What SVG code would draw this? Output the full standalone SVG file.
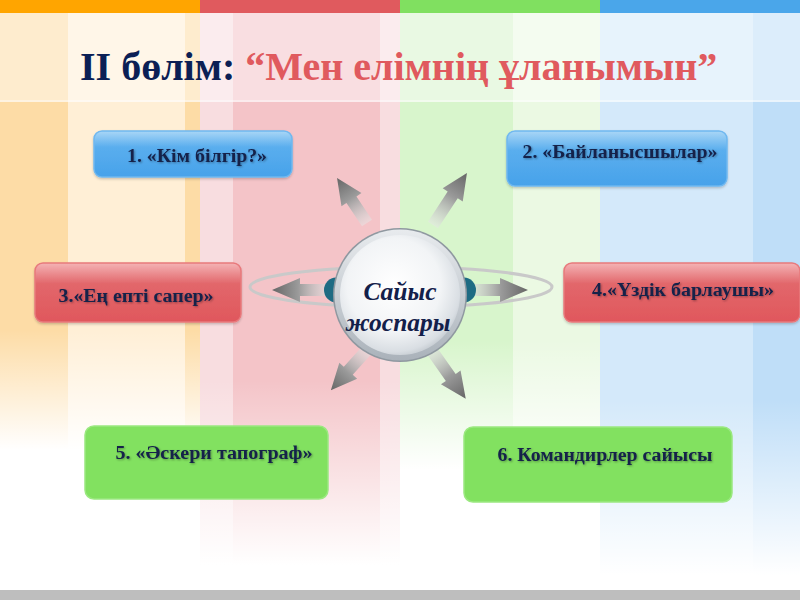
<svg xmlns="http://www.w3.org/2000/svg" width="800" height="600" viewBox="0 0 800 600">
  <defs>
    <linearGradient id="fadeA" gradientUnits="userSpaceOnUse" x1="0" y1="330" x2="0" y2="450">
      <stop offset="0" stop-color="#ffffff" stop-opacity="0"/>
      <stop offset="1" stop-color="#ffffff" stop-opacity="1"/>
    </linearGradient>
    <linearGradient id="fadeB" gradientUnits="userSpaceOnUse" x1="0" y1="380" x2="0" y2="565">
      <stop offset="0" stop-color="#ffffff" stop-opacity="0"/>
      <stop offset="1" stop-color="#ffffff" stop-opacity="1"/>
    </linearGradient>
    <linearGradient id="fadeC" gradientUnits="userSpaceOnUse" x1="0" y1="340" x2="0" y2="470">
      <stop offset="0" stop-color="#ffffff" stop-opacity="0"/>
      <stop offset="1" stop-color="#ffffff" stop-opacity="1"/>
    </linearGradient>
    <linearGradient id="fadeD" gradientUnits="userSpaceOnUse" x1="0" y1="400" x2="0" y2="575">
      <stop offset="0" stop-color="#ffffff" stop-opacity="0"/>
      <stop offset="1" stop-color="#ffffff" stop-opacity="1"/>
    </linearGradient>
    <linearGradient id="arrowGrad" x1="0" y1="0" x2="1" y2="0">
      <stop offset="0" stop-color="#e6e6e6" stop-opacity="0.5"/>
      <stop offset="0.55" stop-color="#9a9a9a"/>
      <stop offset="1" stop-color="#666666"/>
    </linearGradient>
    <linearGradient id="blueBox" x1="0" y1="0" x2="0" y2="1">
      <stop offset="0" stop-color="#a9d6f6"/>
      <stop offset="0.35" stop-color="#5aaeee"/>
      <stop offset="1" stop-color="#47a2ea"/>
    </linearGradient>
    <linearGradient id="redBox" x1="0" y1="0" x2="0" y2="1">
      <stop offset="0" stop-color="#f4b3b5"/>
      <stop offset="0.35" stop-color="#e2676b"/>
      <stop offset="1" stop-color="#e0575c"/>
    </linearGradient>
    <radialGradient id="ballGrad" cx="0.45" cy="0.42" r="0.6">
      <stop offset="0" stop-color="#ffffff"/>
      <stop offset="0.65" stop-color="#f2f4f6"/>
      <stop offset="0.92" stop-color="#d9dee3"/>
      <stop offset="1" stop-color="#c6ccd2"/>
    </radialGradient>
    <linearGradient id="rimGrad" x1="0" y1="0" x2="0" y2="1">
      <stop offset="0" stop-color="#e8ebee"/>
      <stop offset="1" stop-color="#aab2ba"/>
    </linearGradient>
    <filter id="txtShadow" x="-10%" y="-30%" width="120%" height="160%">
      <feDropShadow dx="1" dy="1" stdDeviation="0.8" flood-color="#000000" flood-opacity="0.35"/>
    </filter>
    <filter id="boxShadow" x="-10%" y="-20%" width="120%" height="150%">
      <feDropShadow dx="0" dy="1.5" stdDeviation="1.2" flood-color="#000000" flood-opacity="0.2"/>
    </filter>
  </defs>
  <style>
    .boxText { font-family: "Liberation Serif", "DejaVu Serif", serif; font-weight: bold; font-size: 18px; fill: #13204a; text-anchor: middle; }
    .arrow { fill: url(#arrowGrad); }
    .blue { fill: url(#blueBox); stroke: #6fb8f0; stroke-width: 1.5; }
    .red { fill: url(#redBox); stroke: #e8797c; stroke-width: 1.5; }
    .green { fill: #82e160; stroke: #9be880; stroke-width: 1.5; }
    .ballText { font-family: "Liberation Serif", "DejaVu Serif", serif; font-size: 25.5px; font-style: italic; font-weight: bold; fill: #13204a; text-anchor: middle; }
  </style>

  <!-- background -->
  <g id="background">
    <rect x="0" y="0" width="800" height="600" fill="#ffffff"/>
    <rect x="0" y="13" width="68" height="580" fill="#fddca6"/>
    <rect x="68" y="13" width="117" height="580" fill="#ffefd6"/>
    <rect x="185" y="13" width="15" height="580" fill="#fddca6"/>
    <rect x="200" y="13" width="33" height="580" fill="#f8dde0"/>
    <rect x="233" y="13" width="147" height="580" fill="#f4c4c8"/>
    <rect x="380" y="13" width="20" height="580" fill="#f8dde0"/>
    <rect x="400" y="13" width="113" height="580" fill="#d8f5cc"/>
    <rect x="513" y="13" width="87" height="580" fill="#ebf9e3"/>
    <rect x="600" y="13" width="153" height="580" fill="#d4e9fa"/>
    <rect x="753" y="13" width="47" height="580" fill="#bfdef8"/>
    <rect x="0" y="13" width="800" height="89" fill="#ffffff" opacity="0.45"/>
    <rect x="0" y="100" width="800" height="2" fill="#ffffff" opacity="0.4"/>
    <rect x="0" y="330" width="200" height="260" fill="url(#fadeA)"/>
    <rect x="200" y="330" width="200" height="260" fill="url(#fadeB)"/>
    <rect x="400" y="330" width="200" height="260" fill="url(#fadeC)"/>
    <rect x="600" y="330" width="200" height="260" fill="url(#fadeD)"/>
    <rect x="0" y="575" width="800" height="15" fill="#ffffff"/>
    <rect x="0" y="0" width="200" height="13" fill="#ffa500"/>
    <rect x="200" y="0" width="200" height="13" fill="#e05a5e"/>
    <rect x="400" y="0" width="200" height="13" fill="#80e060"/>
    <rect x="600" y="0" width="200" height="13" fill="#4aa6ea"/>
    <rect x="0" y="590" width="800" height="10" fill="#bebebe"/>
  </g>

  <!-- title -->
  <g id="title">
    <text x="80" y="80" font-family="'Liberation Serif', 'DejaVu Serif', serif" font-size="40" font-weight="bold"><tspan fill="#0b1f55">II бөлім: </tspan><tspan fill="#e05a5e">“Мен елімнің ұланымын”</tspan></text>
  </g>

  <!-- connectors -->
  <g id="connectors">
    <ellipse cx="401" cy="287" rx="151" ry="20" fill="none" stroke="#c9c9c9" stroke-width="3"/>
    <g transform="translate(367,223) rotate(-123.7)"><path class="arrow" d="M0,-6 L28,-6 L28,-12 L54,0 L28,12 L28,6 L0,6 Z"/></g>
    <g transform="translate(433,225) rotate(-56.8)"><path class="arrow" d="M0,-6 L36,-6 L36,-12 L62,0 L36,12 L36,6 L0,6 Z"/></g>
    <g transform="translate(367,350) rotate(132)"><path class="arrow" d="M0,-6 L28,-6 L28,-12 L54,0 L28,12 L28,6 L0,6 Z"/></g>
    <g transform="translate(430,348) rotate(54.8)"><path class="arrow" d="M0,-6 L36,-6 L36,-12 L62,0 L36,12 L36,6 L0,6 Z"/></g>
    <g transform="translate(330,290) rotate(180)"><path class="arrow" d="M0,-6 L30,-6 L30,-12 L58,0 L30,12 L30,6 L0,6 Z"/></g>
    <g transform="translate(468,290)"><path class="arrow" d="M0,-6 L32,-6 L32,-12 L60,0 L32,12 L32,6 L0,6 Z"/></g>
    <ellipse cx="336" cy="290" rx="12" ry="12.5" fill="#1e6b83"/>
    <ellipse cx="464" cy="290" rx="12" ry="12.5" fill="#1e6b83"/>
  </g>

  <!-- center node -->
  <g id="center">
    <circle cx="400" cy="295" r="67" fill="#8f98a0"/>
    <circle cx="400" cy="295" r="65.5" fill="url(#rimGrad)"/>
    <circle cx="400" cy="295" r="60" fill="url(#ballGrad)"/>
    <text class="ballText" x="400" y="300">Сайыс</text>
    <text class="ballText" x="398" y="331">жоспары</text>
  </g>

  <g id="node1" filter="url(#boxShadow)">
    <rect class="blue" x="94" y="131" width="198" height="46" rx="8"/>
    <text class="boxText" x="197" y="162" textLength="140" lengthAdjust="spacingAndGlyphs" filter="url(#txtShadow)">1. «Кім білгір?»</text>
  </g>
  <g id="node2" filter="url(#boxShadow)">
    <rect class="blue" x="507" y="131" width="220" height="55" rx="8"/>
    <text class="boxText" x="620" y="158" textLength="195" lengthAdjust="spacingAndGlyphs" filter="url(#txtShadow)">2. «Байланысшылар»</text>
  </g>
  <g id="node3" filter="url(#boxShadow)">
    <rect class="red" x="35" y="263" width="206" height="59" rx="8"/>
    <text class="boxText" x="136" y="302" textLength="155" lengthAdjust="spacingAndGlyphs" filter="url(#txtShadow)">3.«Ең епті сапер»</text>
  </g>
  <g id="node4" filter="url(#boxShadow)">
    <rect class="red" x="564" y="263" width="236" height="59" rx="8"/>
    <text class="boxText" x="683" y="296" textLength="182" lengthAdjust="spacingAndGlyphs" filter="url(#txtShadow)">4.«Үздік барлаушы»</text>
  </g>
  <g id="node5">
    <rect class="green" x="85" y="426" width="243" height="73" rx="9"/>
    <text class="boxText" x="214" y="459" textLength="197" lengthAdjust="spacingAndGlyphs" filter="url(#txtShadow)">5. «Әскери тапограф»</text>
  </g>
  <g id="node6">
    <rect class="green" x="464" y="427" width="268" height="75" rx="9"/>
    <text class="boxText" x="605" y="461" textLength="215" lengthAdjust="spacingAndGlyphs" filter="url(#txtShadow)">6. Командирлер сайысы</text>
  </g>
</svg>
